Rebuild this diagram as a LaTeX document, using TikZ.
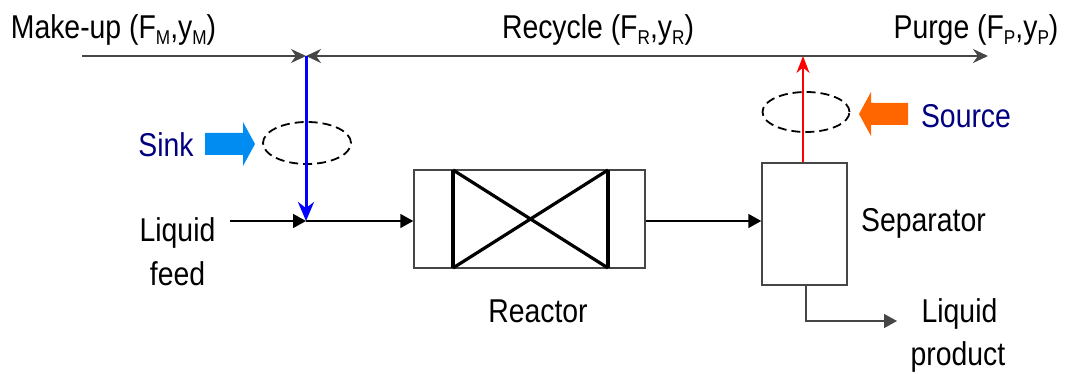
\documentclass[tikz,border=0pt]{standalone}
\usepackage{fontspec}
\setmainfont[FakeStretch=0.86]{Liberation Sans}
\usetikzlibrary{arrows.meta,shapes.geometric}
\definecolor{navy}{RGB}{0,0,128}
\definecolor{sinkblue}{RGB}{0,140,240}
\definecolor{srcorange}{RGB}{255,102,0}
\definecolor{linegray}{RGB}{70,70,70}
\newcommand{\lowsub}[1]{\raisebox{-6pt}{\fontsize{20}{20}\selectfont #1}}
\begin{document}
\begin{tikzpicture}[x=1pt,y=-1pt,
  lbl/.style={font=\fontsize{33}{38}\selectfont, inner sep=0pt, anchor=base},
  navylbl/.style={lbl, text=navy},
  flow/.style={draw=linegray, line width=1.5pt},
  tri/.style={-{Triangle[length=13pt,width=14pt]}},
  stl/.style={-{Stealth[length=15pt,width=14pt]}},
  thick box/.style={draw=black, line width=3.2pt},
  ring/.style={draw=black, line width=1.8pt, dash pattern=on 9pt off 5pt},
]
\useasboundingbox (0,0) rectangle (1074,374);

% junction coordinates
\coordinate (mkstart) at (82,56);
\coordinate (mix) at (306,56);
\coordinate (split) at (803,56);
\coordinate (purgeend) at (988,56);
\coordinate (feedstart) at (230,221);
\coordinate (feedjoin) at (306,221);
\coordinate (prodcorner) at (806,321);
\coordinate (prodend) at (897,321);

% units
\node[draw=linegray, line width=1.5pt, minimum width=231pt, minimum height=98pt, inner sep=0pt] (reactor) at (529.5,219) {};
\node[draw=linegray, line width=1.5pt, minimum width=85pt, minimum height=122pt, inner sep=0pt] (sep) at (804.5,224) {};

% reactor interior
\coordinate (ra) at (453,170);
\coordinate (rb) at (608,170);
\coordinate (rc) at (608,268);
\coordinate (rd) at (453,268);
\draw[thick box] (ra) -- (rd);
\draw[thick box] (rb) -- (rc);
\draw[thick box] (ra) -- (rc);
\draw[thick box] (rd) -- (rb);

% dashed rings
\node[ring, ellipse, minimum width=88pt, minimum height=42pt, inner sep=0pt] (sinkring) at (307,143) {};
\node[ring, ellipse, minimum width=87pt, minimum height=40pt, inner sep=0pt] (srcring) at (806,112) {};

% top header line
\draw[flow, stl] (mkstart) -- (mix);
\draw[flow, stl] (split) -- (mix);
\draw[flow, stl] (split) -- (purgeend);

% sink (blue) and source (red) lines
\draw[draw=blue, line width=3pt, -{Stealth[length=19pt,width=16pt]}] (mix) -- (feedjoin);
\draw[draw=red, line width=1.5pt, -{Stealth[length=17pt,width=13pt]}] (sep.north -| split) -- (split);

% feed and process flow
\draw[flow, draw=black, tri] (feedstart) -- (feedjoin);
\draw[flow, draw=black, tri] (feedjoin) -- (reactor.west |- feedjoin);
\draw[flow, draw=black, tri] (reactor.east |- feedjoin) -- (sep.west |- feedjoin);
\draw[flow, tri] (sep.south -| prodcorner) -- (prodcorner) -- (prodend);

% block arrows
\fill[sinkblue] (205,133) -- (243,133) -- (243,122) -- (255,144) -- (243,166) -- (243,155) -- (205,155) -- cycle;
\fill[srcorange] (908,103) -- (871,103) -- (871,92) -- (859,114) -- (871,136) -- (871,125) -- (908,125) -- cycle;

% labels
\node[lbl] (mklbl) at (113.5,39) {Make-up (F\lowsub{M},y\lowsub{M})};
\node[lbl] (rclbl) at (598,39) {Recycle (F\lowsub{R},y\lowsub{R})};
\node[lbl] (pglbl) at (976,39) {Purge (F\lowsub{P},y\lowsub{P})};
\node[navylbl] (sinklbl) at (166,157) {Sink};
\node[navylbl] (srclbl) at (966,128) {Source};
\node[lbl] (feedlbl1) at (177.5,242) {Liquid};
\node[lbl] (feedlbl2) at (177.5,285) {feed};
\node[lbl] (reactlbl) at (538,322) {Reactor};
\node[lbl] (seplbl) at (923.5,232) {Separator};
\node[lbl] (prodlbl1) at (959.5,322) {Liquid};
\node[lbl] (prodlbl2) at (958,365) {product};
\end{tikzpicture}
\end{document}
